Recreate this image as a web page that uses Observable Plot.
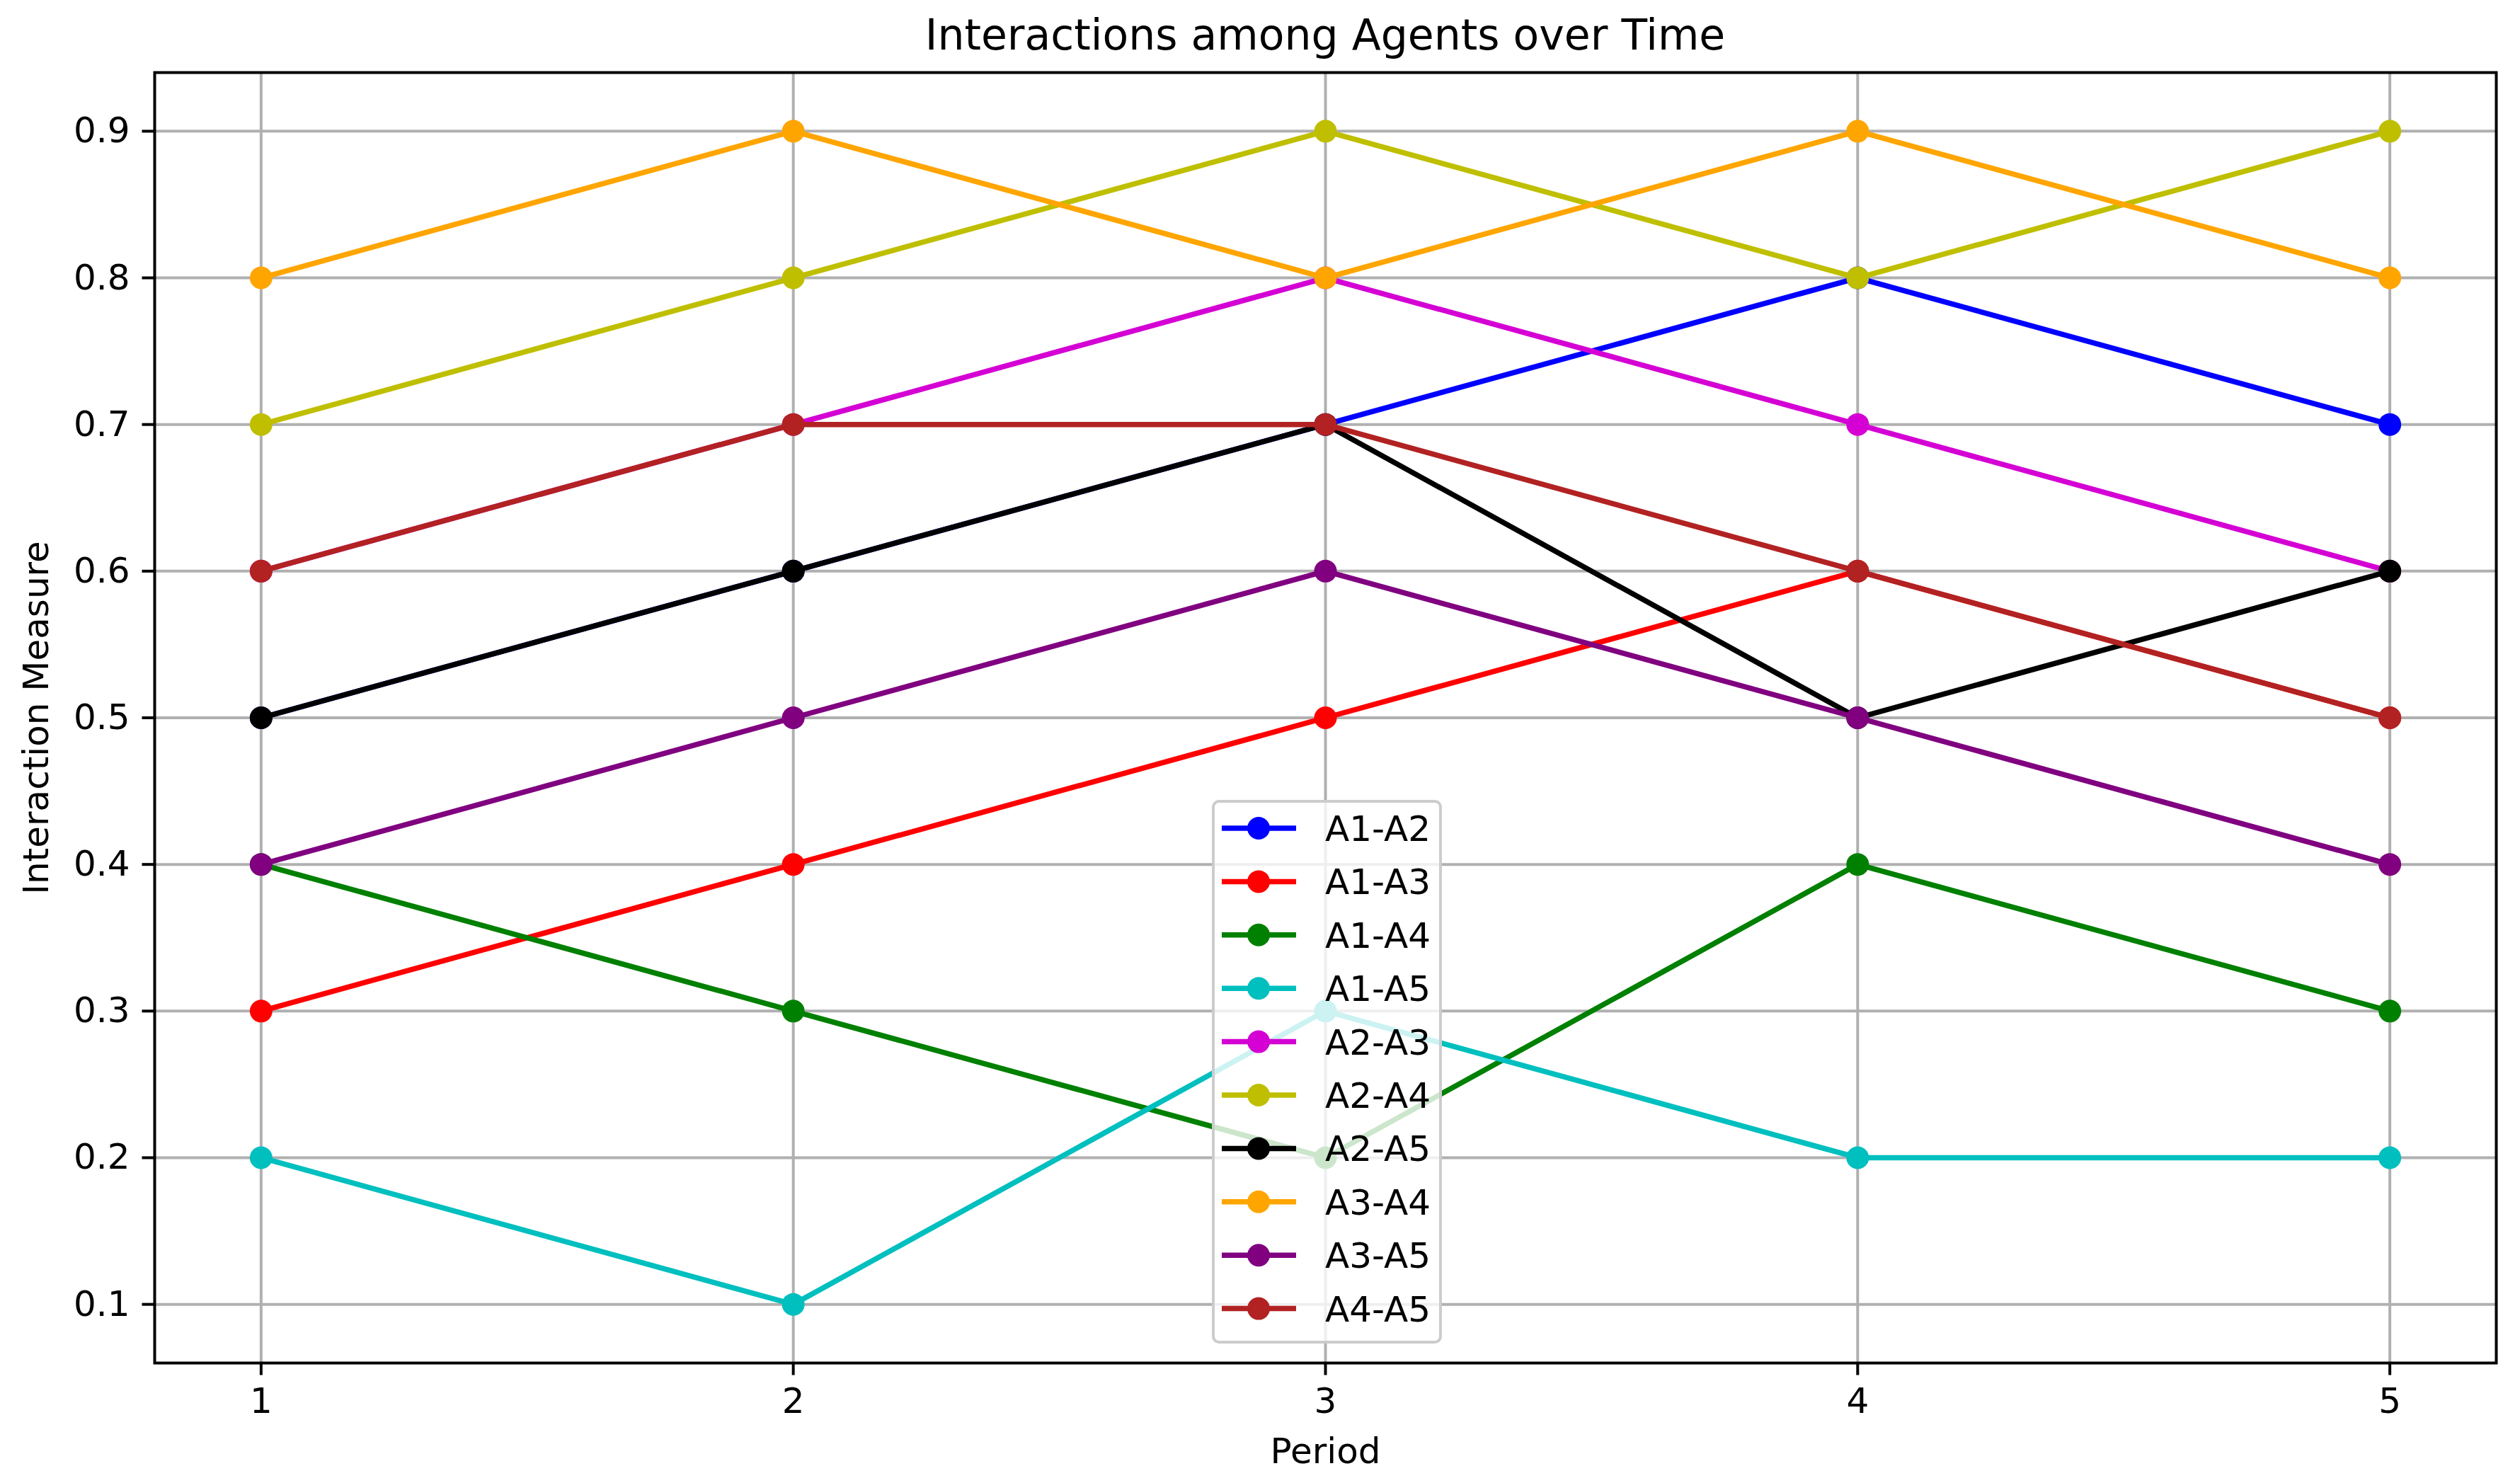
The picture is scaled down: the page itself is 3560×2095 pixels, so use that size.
<!DOCTYPE html>
<html>
<head>
<meta charset="utf-8">
<script src="https://cdn.jsdelivr.net/npm/d3@7"></script>
<script src="https://cdn.jsdelivr.net/npm/@observablehq/plot@0.6"></script>
<style>
  html, body { margin: 0; padding: 0; background: white; }
  #wrap { position: relative; width: 3560px; height: 2095px; font-family: "DejaVu Sans", sans-serif; }
  #title { position: absolute; left: 218px; top: 0; width: 3308px; height: 95px; box-sizing: border-box; padding-top: 19px;
           text-align: center; font-size: 60px; line-height: 1; color: black; }
  #chart { position: absolute; left: 0; top: 95px; }
  #legend { position: absolute; left: 1712px; top: 1130px; width: 325px; height: 768px; box-sizing: border-box;
            border: 4px solid #cccccc; border-radius: 10px; background: rgba(255,255,255,0.8); }
</style>
</head>
<body>
<div id="wrap">
  <div id="title">Interactions among Agents over Time</div>
  <div id="chart"></div>
  <div id="legend"></div>
</div>
<script>
const periods = [1, 2, 3, 4, 5];
const yTicks = [0.1, 0.2, 0.3, 0.4, 0.5, 0.6, 0.7, 0.8, 0.9];
const seriesNames = ["A1-A2", "A1-A3", "A1-A4", "A1-A5", "A2-A3", "A2-A4", "A2-A5", "A3-A4", "A3-A5", "A4-A5"];
const seriesColors = ["#0000ff", "#ff0000", "#008000", "#00bfbf", "#d400d4", "#bfbf00", "#000000", "#ffa500", "#800080", "#b22222"];
const a1a2 = [0.5, 0.6, 0.7, 0.8, 0.7];
const a1a3 = [0.3, 0.4, 0.5, 0.6, 0.5];
const a1a4 = [0.4, 0.3, 0.2, 0.4, 0.3];
const a1a5 = [0.2, 0.1, 0.3, 0.2, 0.2];
const a2a3 = [0.6, 0.7, 0.8, 0.7, 0.6];
const a2a4 = [0.7, 0.8, 0.9, 0.8, 0.9];
const a2a5 = [0.5, 0.6, 0.7, 0.5, 0.6];
const a3a4 = [0.8, 0.9, 0.8, 0.9, 0.8];
const a3a5 = [0.4, 0.5, 0.6, 0.5, 0.4];
const a4a5 = [0.6, 0.7, 0.7, 0.6, 0.5];
const seriesValues = [a1a2, a1a3, a1a4, a1a5, a2a3, a2a4, a2a5, a3a4, a3a5, a4a5];

const seriesMarks = [];
seriesNames.forEach((name, i) => {
  const rows = periods.map((p, j) => ({period: p, value: seriesValues[i][j], series: name}));
  seriesMarks.push(Plot.line(rows, {x: "period", y: "value", stroke: seriesColors[i], strokeWidth: 7.5,
    strokeLinejoin: "round", strokeLinecap: "square"}));
  seriesMarks.push(Plot.dot(rows, {x: "period", y: "value", fill: seriesColors[i], r: 16, stroke: "none"}));
});

const chart = Plot.plot({
  width: 3560,
  height: 2000,
  marginLeft: 218,
  marginRight: 34,
  marginTop: 7,
  marginBottom: 170,
  style: {fontFamily: "DejaVu Sans", fontSize: "50px", color: "black", background: "white", overflow: "visible"},
  x: {domain: [0.8, 5.2]},
  y: {domain: [0.06, 0.94]},
  marks: [
    Plot.gridX(periods, {stroke: "#b0b0b0", strokeOpacity: 1, strokeWidth: 4}),
    Plot.gridY(yTicks, {stroke: "#b0b0b0", strokeOpacity: 1, strokeWidth: 4}),
    ...seriesMarks,
    Plot.frame({stroke: "black", strokeWidth: 4}),
    Plot.axisX(periods, {tickSize: 17.5, tickPadding: 17.5, strokeWidth: 4, tickFormat: d => String(d),
      label: "Period", labelAnchor: "center", labelOffset: 141, labelArrow: "none"}),
    Plot.axisY(yTicks, {tickSize: 17.5, tickPadding: 17.5, strokeWidth: 4, tickFormat: d3.format(".1f"),
      label: "Interaction Measure", labelAnchor: "center", labelOffset: 186, labelArrow: "none"})
  ]
});
document.getElementById("chart").appendChild(chart);

// Legend (matplotlib style)
const leg = d3.select("#legend");
const lsvg = leg.append("svg").attr("width", 325).attr("height", 768)
  .style("position", "absolute").style("left", "-4px").style("top", "-4px")
  .style("font-family", "DejaVu Sans").style("font-size", "50px");
seriesNames.forEach((name, i) => {
  const cy = 40 + i * 75.4;
  const g = lsvg.append("g");
  g.append("line").attr("x1", 14).attr("x2", 119).attr("y1", cy).attr("y2", cy)
    .attr("stroke", seriesColors[i]).attr("stroke-width", 7.5);
  g.append("circle").attr("cx", 66).attr("cy", cy).attr("r", 16).attr("fill", seriesColors[i]);
  g.append("text").attr("x", 160).attr("y", cy).attr("dy", "0.36em").attr("fill", "black").text(name);
});
</script>
</body>
</html>
